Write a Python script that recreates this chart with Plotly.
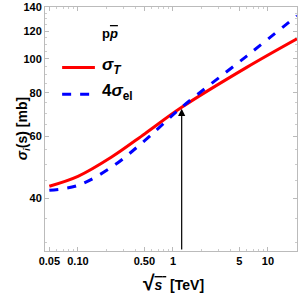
import numpy as np
import plotly.graph_objects as go

# data
sqrt_s = [0.05, 0.1, 0.226, 0.507, 1.235, 5.97, 20.2]
sigma_T = [43.3, 46.2, 52.45, 61.15, 72.7, 94.5, 114.0]
four_sigma_el = [42.15, 43.55, 49.1, 58.5, 72.7, 101.8, 132.6]
x_ticks = [0.05, 0.1, 0.5, 1, 5, 10]
x_ticklabels = ["0.05", "0.10", "0.50", "1", "5", "10"]
y_ticks = [40, 60, 80, 100, 120, 140]
cross_x = 1.235
cross_y = 72.7

fig = go.Figure()
fig.add_trace(go.Scatter(x=sqrt_s, y=sigma_T, mode="lines",
                         line=dict(color="#ff0000", width=3, shape="spline"),
                         showlegend=False))
fig.add_trace(go.Scatter(x=sqrt_s, y=four_sigma_el, mode="lines",
                         line=dict(color="#0000ff", width=3, dash="dash", shape="spline"),
                         showlegend=False))

ymin = 28.3
fig.add_annotation(x=np.log10(cross_x), y=np.log10(cross_y) - 0.004,
                   ax=np.log10(cross_x), ay=np.log10(ymin),
                   xref="x", yref="y", axref="x", ayref="y",
                   showarrow=True, arrowhead=2, arrowsize=1.2, arrowwidth=1.2,
                   arrowcolor="black", text="")

fnt = dict(family="Liberation Sans, Arial", size=11, color="black", weight="bold")
frame = dict(showline=True, linecolor="#bbbbbb", linewidth=1, mirror="ticks",
             ticks="inside", tickcolor="#bbbbbb", ticklen=4, showgrid=False,
             zeroline=False, tickfont=fnt, automargin=False)

fig.update_xaxes(type="log", range=[np.log10(0.045), np.log10(20.2)],
                 tickvals=x_ticks, ticktext=x_ticklabels,
                 minor=dict(ticks="inside", ticklen=2, tickcolor="#cccccc",
                            tickvals=[0.06, 0.07, 0.08, 0.09, 0.2, 0.3, 0.4, 0.6, 0.7, 0.8, 0.9,
                                      2, 3, 4, 6, 7, 8, 9, 20]),
                 **frame)
fig.update_yaxes(type="log", range=[np.log10(ymin), np.log10(140.5)],
                 tickvals=y_ticks, ticktext=[str(v) for v in y_ticks],
                 minor=dict(ticks="inside", ticklen=2, tickcolor="#cccccc",
                            tickvals=[30, 35, 45, 50, 55, 65, 70, 75, 85, 90, 95, 105, 110, 115, 125, 130, 135]),
                 **frame)

# legend drawn manually
fig.add_shape(type="line", xref="paper", yref="paper", x0=0.068, x1=0.198, y0=0.752, y1=0.752,
              line=dict(color="#ff0000", width=3))
fig.add_shape(type="line", xref="paper", yref="paper", x0=0.068, x1=0.198, y0=0.642, y1=0.642,
              line=dict(color="#0000ff", width=3, dash="dash"))
fig.add_annotation(x=0.22, y=0.76, xref="paper", yref="paper", xanchor="left", yanchor="middle",
                   text="<b><i>σ</i><sub><i>T</i></sub></b>", showarrow=False,
                   font=dict(family="Liberation Sans, Arial", size=17, color="black"))
fig.add_annotation(x=0.22, y=0.65, xref="paper", yref="paper", xanchor="left", yanchor="middle",
                   text="<b>4<i>σ</i><sub>el</sub></b>", showarrow=False,
                   font=dict(family="Liberation Sans, Arial", size=17, color="black"))
fig.add_annotation(x=0.218, y=0.89, xref="paper", yref="paper", xanchor="left", yanchor="middle",
                   text="<b>p<span style='text-decoration:overline'><i>p</i></span></b>", showarrow=False,
                   font=dict(family="Liberation Sans, Arial", size=13, color="black"))

# axis titles
fig.add_annotation(x=-0.13, y=0.5, xref="paper", yref="paper", textangle=-90,
                   text="<b><i>σ</i><sub><i>i</i></sub>(s) [mb]</b>", showarrow=False,
                   font=dict(family="Liberation Sans, Arial", size=14, color="black"))
fig.add_annotation(x=0.508, y=-0.131, xref="paper", yref="paper", yanchor="middle",
                   text="<b><span style='font-size:21px'>√</span><span style='text-decoration:overline'><i>s</i> </span> [TeV]</b>",
                   showarrow=False,
                   font=dict(family="Liberation Sans, Arial", size=14, color="black"))

fig.update_layout(width=307, height=303, margin=dict(l=45, r=10, t=7, b=52, autoexpand=False),
                  plot_bgcolor="white", paper_bgcolor="white", showlegend=False)

fig.write_html("out.html", config={"displayModeBar": False},
               post_script="document.body.style.margin='0';document.body.style.overflow='hidden';")
